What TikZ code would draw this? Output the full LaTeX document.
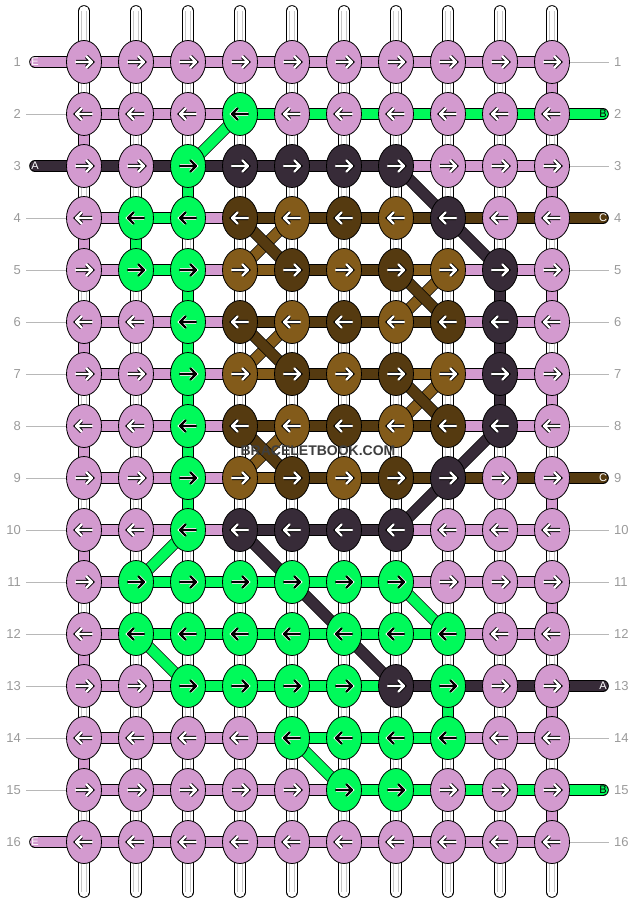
\documentclass[tikz,border=0pt]{standalone}
\usepackage{fontspec}
\setmainfont{Liberation Sans}
\usetikzlibrary{shapes.geometric, calc}
\pgfdeclarelayer{strings}
\pgfdeclarelayer{threads}
\pgfsetlayers{strings,threads,main}

\definecolor{thrL}{HTML}{D39ACF}
\definecolor{thrG}{HTML}{00FA5A}
\definecolor{thrK}{HTML}{372B38}
\definecolor{thrD}{HTML}{553A10}
\definecolor{thrT}{HTML}{835B1A}
\definecolor{rowgrey}{HTML}{9A9A9A}
\definecolor{markgrey}{HTML}{3E3E3E}

\tikzstyle{knot} = [ellipse, minimum width=35pt, minimum height=43pt, inner sep=0pt, draw=black, line width=0.8pt]
\tikzstyle{kL} = [knot, fill=thrL]
\tikzstyle{kG} = [knot, fill=thrG]
\tikzstyle{kK} = [knot, fill=thrK]
\tikzstyle{kD} = [knot, fill=thrD]
\tikzstyle{kT} = [knot, fill=thrT]
\tikzstyle{thread} = [draw=black, line width=0.8pt, double distance=10pt]
\tikzstyle{tL} = [thread, double=thrL]
\tikzstyle{tG} = [thread, double=thrG]
\tikzstyle{tK} = [thread, double=thrK]
\tikzstyle{tD} = [thread, double=thrD]
\tikzstyle{tT} = [thread, double=thrT]
\tikzstyle{string} = [draw=black, line width=0.8pt, double=white, double distance=10pt, line cap=round]
\tikzstyle{stringcore} = [draw=black!22, line width=0.6pt, double=white, double distance=4pt]
\tikzstyle{arwhite} = [line cap=round, line join=round, draw=white, line width=2.4pt, preaction={draw=black, line width=4.2pt}]
\tikzstyle{arblack} = [line cap=round, line join=round, draw=black, line width=2.4pt, preaction={draw=white, line width=3.6pt}]
\tikzstyle{arL} = [arwhite]
\tikzstyle{arK} = [arwhite]
\tikzstyle{arD} = [arwhite]
\tikzstyle{arT} = [arwhite]
\tikzstyle{arG} = [arblack]
\tikzstyle{rownum} = [inner sep=0pt, text=rowgrey, font=\fontsize{13}{13}\selectfont]
\tikzstyle{tailtag} = [inner sep=0pt, font=\fontsize{11}{11}\selectfont]
\tikzstyle{guide} = [draw=black!28, line width=0.8pt]

\begin{document}
\begin{tikzpicture}[x=1pt, y=-1pt]
\useasboundingbox (0,0) rectangle (636,904);

% knots, row by row
\foreach \r/\knots in {
  1/{L,L,L,L,L,L,L,L,L,L},
  2/{L,L,L,G,L,L,L,L,L,L},
  3/{L,L,G,K,K,K,K,L,L,L},
  4/{L,G,G,D,T,D,T,K,L,L},
  5/{L,G,G,T,D,T,D,T,K,L},
  6/{L,L,G,D,T,D,T,D,K,L},
  7/{L,L,G,T,D,T,D,T,K,L},
  8/{L,L,G,D,T,D,T,D,K,L},
  9/{L,L,G,T,D,T,D,K,L,L},
  10/{L,L,G,K,K,K,K,L,L,L},
  11/{L,G,G,G,G,G,G,L,L,L},
  12/{L,G,G,G,G,G,G,G,L,L},
  13/{L,L,G,G,G,G,K,G,L,L},
  14/{L,L,L,L,G,G,G,G,L,L},
  15/{L,L,L,L,L,G,G,L,L,L},
  16/{L,L,L,L,L,L,L,L,L,L}} {
  \pgfmathtruncatemacro\d{1-2*mod(\r+1,2)}
  \foreach \k [count=\c] in \knots {
    \node (k-\r-\c) [k\k] at ({84+52*(\c-1)},{62+52*(\r-1)}) {};
    \draw[ar\k, shift={(k-\r-\c.center)}, xscale=\d] (-8,0) -- (8,0) (2.5,-5.5) -- (8,0) -- (2.5,5.5);
  }
  \node (ln-\r) [rownum, anchor=east] at (21,{62+52*(\r-1)}) {\r};
  \node (rn-\r) [rownum, anchor=west] at (614,{62+52*(\r-1)}) {\r};
}

% tail tags
\node (tl-1) [tailtag, text=white] at (35,62) {E};
\node (tl-3) [tailtag, text=white] at (35,166) {A};
\node (tl-16) [tailtag, text=white] at (35,842) {E};
\node (tr-2) [tailtag, text=black] at (603,114) {B};
\node (tr-4) [tailtag, text=white] at (603,218) {C};
\node (tr-9) [tailtag, text=white] at (603,478) {C};
\node (tr-13) [tailtag, text=white] at (603,686) {A};
\node (tr-15) [tailtag, text=black] at (603,790) {B};

% watermark
\node (mark) [text=markgrey, font=\bfseries\fontsize{14}{14}\selectfont] at (318,451) {BRACELETBOOK.COM};

% vertical base strings
\begin{pgfonlayer}{strings}
\foreach \c in {1,...,10} {
  \coordinate (top-\c) at ({84+52*(\c-1)},11);
  \coordinate (bot-\c) at ({84+52*(\c-1)},892);
  \draw[string] (top-\c) -- (bot-\c);
  \draw[stringcore] (top-\c) -- (bot-\c);
}
\end{pgfonlayer}

\begin{pgfonlayer}{threads}
% row threads
\foreach \r/\segs in {
  1/{L,L,L,L,L,L,L,L,L},
  2/{L,L,L,G,G,G,G,G,G},
  3/{K,K,K,K,K,K,L,L,L},
  4/{L,G,L,D,D,D,D,D,D},
  5/{L,G,L,T,D,D,T,L,L},
  6/{L,L,L,D,D,D,D,L,L},
  7/{L,L,L,T,D,D,T,L,L},
  8/{L,L,L,D,D,D,D,L,L},
  9/{L,L,L,T,D,D,D,D,D},
  10/{L,L,L,K,K,K,L,L,L},
  11/{L,G,G,G,G,G,L,L,L},
  12/{L,G,G,G,G,G,G,L,L},
  13/{L,L,G,G,G,G,K,K,K},
  14/{L,L,L,L,G,G,G,L,L},
  15/{L,L,L,L,L,G,G,G,G},
  16/{L,L,L,L,L,L,L,L,L}} {
  \foreach \k [count=\c] in \segs {
    \pgfmathtruncatemacro\n{\c+1}
    \draw[t\k] (k-\r-\c.center) -- (k-\r-\n.center);
  }
}

% turns down a column
\foreach \r/\c/\k in {2/1/L, 4/1/L, 6/1/L, 8/1/L, 10/1/L, 12/1/L, 14/1/L,
    1/10/L, 3/10/L, 5/10/L, 7/10/L, 9/10/L, 11/10/L, 13/10/L, 15/10/L,
    3/3/G, 4/2/G, 5/3/G, 6/3/G, 7/3/G, 8/3/G, 9/3/G, 13/8/G,
    5/9/K, 6/9/K, 7/9/K} {
  \pgfmathtruncatemacro\n{\r+1}
  \draw[t\k] (k-\r-\c.center) -- (k-\n-\c.center);
}

% slanted threads
\foreach \ra/\ca/\rb/\cb/\k in {2/4/3/3/G, 10/3/11/2/G, 12/2/13/3/G, 11/7/12/8/G, 14/5/15/6/G,
    3/7/4/8/K, 4/8/5/9/K, 8/9/9/8/K, 9/8/10/7/K, 10/4/13/7/K,
    4/5/5/4/T, 6/5/7/4/T, 8/5/9/4/T, 5/8/6/7/T, 7/8/8/7/T,
    4/4/5/5/D, 6/4/7/5/D, 8/4/9/5/D, 5/7/6/8/D, 7/7/8/8/D}
  \draw[t\k] (k-\ra-\ca.center) -- (k-\rb-\cb.center);

% loose ends
\draw[tL, line cap=round] (tl-1.center) -- (k-1-1.center);
\draw[tK, line cap=round] (tl-3.center) -- (k-3-1.center);
\draw[tL, line cap=round] (tl-16.center) -- (k-16-1.center);
\draw[tG, line cap=round] (tr-2.center) -- (k-2-10.center);
\draw[tD, line cap=round] (tr-4.center) -- (k-4-10.center);
\draw[tD, line cap=round] (tr-9.center) -- (k-9-10.center);
\draw[tK, line cap=round] (tr-13.center) -- (k-13-10.center);
\draw[tG, line cap=round] (tr-15.center) -- (k-15-10.center);

% guide lines to the row numbers
\foreach \r in {2,4,5,6,7,8,9,10,11,12,13,14,15}
  \draw[guide] ([xshift=5pt]ln-\r.east) -- (k-\r-1.west);
\foreach \r in {1,3,5,6,7,8,10,11,12,14,16}
  \draw[guide] (k-\r-10.east) -- ([xshift=-5pt]rn-\r.west);
\end{pgfonlayer}

\end{tikzpicture}
\end{document}
